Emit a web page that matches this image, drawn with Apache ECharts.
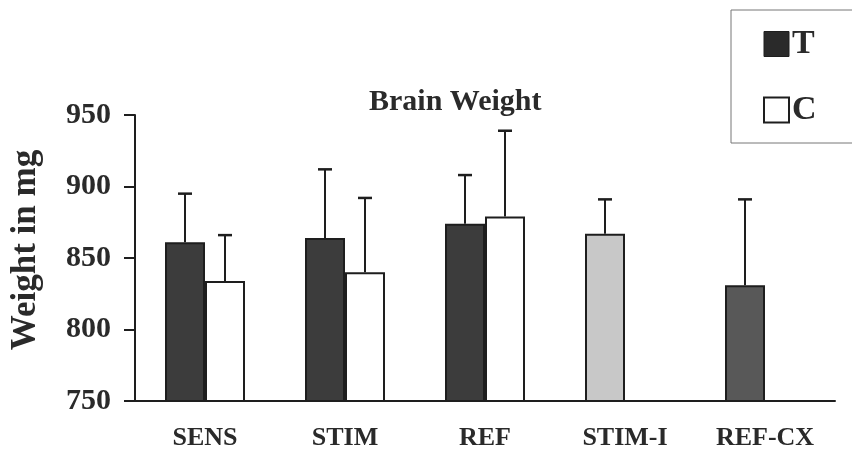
<!DOCTYPE html>
<html>
<head>
<meta charset="utf-8">
<script src="https://cdn.jsdelivr.net/npm/echarts@6/dist/echarts.min.js"></script>
<style>
  html, body { margin: 0; padding: 0; background: #fff; }
  #chart { width: 852px; height: 454px; }
</style>
</head>
<body>
<div id="chart"></div>
<script>
// Brain weight per group, mean with upper SD bar
const categories = ['SENS', 'STIM', 'REF', 'STIM-I', 'REF-CX'];
const yTicks = [750, 800, 850, 900, 950];
const meanT = [861, 864, 874, 867, 831];
const sdT = [34, 48, 34, 24, 60];
const meanC = [834, 840, 879, null, null];
const sdC = [32, 52, 60, null, null];

const FONT = '"Liberation Serif", "Times New Roman", serif';
const INK = '#1e1e1e';

// Per-bar fills for the T slot; the last two groups have their own shading
const fillT = ['#3c3c3c', '#3c3c3c', '#3c3c3c', '#c8c8c8', '#585858'];

const chart = echarts.init(document.getElementById('chart'), null, { renderer: 'canvas' });

function errorSeries(name, means, sds, slot) {
  const data = means.map((m, i) => (m == null ? null : [i, m, m + sds[i]])).filter(d => d);
  return {
    name: name + ' SD',
    type: 'custom',
    z: 1,
    data: data,
    encode: { x: 0, y: [1, 2] },
    renderItem: function (params, api) {
      const i = api.value(0);
      const band = api.size([1, 0])[0];
      const barW = band * (40 / 140);
      const dx = slot * barW / 2;
      const base = api.coord([i, api.value(1)]);
      const top = api.coord([i, api.value(2)]);
      const x = base[0] + dx;
      const cap = 7;
      return {
        type: 'group',
        children: [
          { type: 'line', shape: { x1: x, y1: base[1], x2: x, y2: top[1] },
            style: { stroke: INK, lineWidth: 2 } },
          { type: 'line', shape: { x1: x - cap, y1: top[1], x2: x + cap, y2: top[1] },
            style: { stroke: INK, lineWidth: 2.5 } }
        ]
      };
    }
  };
}

const option = {
  animation: false,
  backgroundColor: '#fff',
  title: {
    text: 'Brain Weight',
    left: 364,
    top: 82,
    textStyle: { fontFamily: FONT, fontWeight: 'bold', fontSize: 30, color: '#2a2a2a' }
  },
  legend: {
    orient: 'vertical',
    left: 731,
    top: 10,
    padding: [17, 36, 16, 32],
    itemGap: 32,
    itemWidth: 25,
    itemHeight: 25,
    borderColor: '#777',
    borderWidth: 1,
    borderRadius: 0,
    selectedMode: false,
    data: [
      { name: 'T', icon: 'rect', itemStyle: { color: '#2a2a2a', borderColor: INK, borderWidth: 1 } },
      { name: 'C', icon: 'rect', itemStyle: { color: '#fff', borderColor: INK, borderWidth: 2 } }
    ],
    textStyle: { fontFamily: FONT, fontWeight: 'bold', fontSize: 34, color: '#2a2a2a', lineHeight: 34, padding: [0, 0, 0, -2] }
  },
  grid: { left: 135, right: 17, top: 115, bottom: 53 },
  xAxis: {
    type: 'category',
    data: categories,
    axisLine: { lineStyle: { color: INK, width: 2 } },
    axisTick: { show: false },
    axisLabel: { fontFamily: FONT, fontWeight: 'bold', fontSize: 26, color: '#2a2a2a', margin: 24 }
  },
  yAxis: {
    type: 'value',
    min: yTicks[0],
    max: yTicks[yTicks.length - 1],
    interval: 50,
    name: 'Weight in mg',
    nameLocation: 'middle',
    nameRotate: 90,
    nameGap: 92,
    nameTextStyle: { fontFamily: FONT, fontWeight: 'bold', fontSize: 35, color: '#2a2a2a', padding: [0, 0, 0, 16] },
    splitLine: { show: false },
    axisLine: { show: true, lineStyle: { color: INK, width: 2 } },
    axisTick: { show: true, length: 11, lineStyle: { color: INK, width: 2 } },
    axisLabel: { fontFamily: FONT, fontWeight: 'bold', fontSize: 30, color: '#2a2a2a', margin: 24 }
  },
  series: [
    {
      name: 'T',
      type: 'bar',
      barWidth: 40,
      barGap: '0%',
      z: 2,
      data: meanT.map((v, i) => ({
        value: v,
        itemStyle: { color: fillT[i], borderColor: INK, borderWidth: 2 }
      })),
      itemStyle: { color: '#3c3c3c', borderColor: INK, borderWidth: 2 }
    },
    {
      name: 'C',
      type: 'bar',
      barWidth: 40,
      barGap: '0%',
      z: 2,
      data: meanC,
      itemStyle: { color: '#fff', borderColor: INK, borderWidth: 2 }
    },
    errorSeries('T', meanT, sdT, -1),
    errorSeries('C', meanC, sdC, 1)
  ]
};

chart.setOption(option);
</script>
</body>
</html>
